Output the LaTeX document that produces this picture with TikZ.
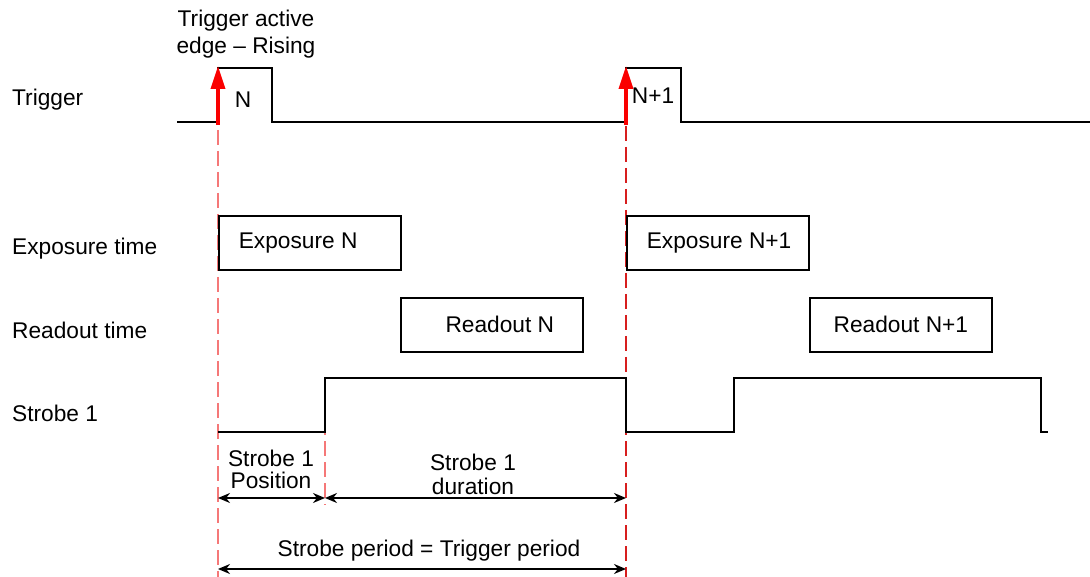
\documentclass[tikz,border=0pt]{standalone}
\usepackage{fontspec}
\setmainfont{Liberation Sans}
\usepackage{tikz}
\usetikzlibrary{arrows.meta, positioning, calc}
\definecolor{edgered}{RGB}{250, 0, 0}
\definecolor{guidepink}{RGB}{245, 120, 120}
\definecolor{guidered}{RGB}{215, 30, 30}

\begin{document}
\begin{tikzpicture}[
    x=1pt, y=-1pt,
    font=\fontsize{22.7}{24}\selectfont,
    signal/.style={line width=1.8pt, black},
    slot/.style={rectangle, draw=black, line width=1.7pt, minimum width=182pt,
                 minimum height=54pt, inner sep=0pt},
    guide/.style={guidepink, line width=1.2pt, dash pattern=on 15pt off 6pt},
    edge/.style={-{Stealth[length=23pt, width=14pt, inset=0pt]}, edgered, line width=3.5pt},
    span/.style={{Stealth[length=12pt, width=10pt]}-{Stealth[length=12pt, width=10pt]},
                 line width=1.6pt, black},
    rowlbl/.style={anchor=base west, inner sep=0pt},
    txt/.style={anchor=base, align=center, inner sep=0pt},
]
\useasboundingbox (0,0) rectangle (1090,577);

% time marks
\coordinate (edgeN) at (218,122);
\coordinate (edgeM) at (626,122);
\coordinate (strobeOn) at (325,378);

% row labels
\node[rowlbl] (lTrig) at (12,106) {Trigger};
\node[rowlbl] (lExp) at (12,255) {Exposure time};
\node[rowlbl] (lRead) at (12,339) {Readout time};
\node[rowlbl] (lStrobe) at (12,421) {Strobe 1};

% guide lines
\draw[guide] ($(edgeN)+(0,8)$) -- (edgeN |- 0,577);
\draw[guide, guidered] ($(edgeM)+(0,4)$) -- (edgeM |- 0,577);
\draw[guide] (strobeOn) -- (strobeOn |- 0,505);

% trigger
\draw[signal] (177,122) -- (edgeN) |- (272,68) -- (272,122) -- (edgeM) |- (681,68)
    -- (681,122) -- (1090,122);
\node[txt, font=\fontsize{22.7}{27}\selectfont] (edgeTxt) at (246,54) {Trigger active\\edge -- Rising};
\node[txt] (pN) at (243,108) {N};
\node[txt] (pM) at (653,104) {N+1};
\draw[edge] ($(edgeN)+(0,3)$) -- ($(edgeN)+(0,-56)$);
\draw[edge] ($(edgeM)+(0,3)$) -- ($(edgeM)+(0,-56)$);

% exposure and readout
\node[slot, anchor=north west] (expN) at (218,215) {\makebox[142pt][l]{Exposure N}};
\node[slot, anchor=north west] (expM) at (626,215) {\makebox[142pt][l]{Exposure N+1}};
\node[slot, anchor=north west] (readN) at (400,297) {\hspace{16pt}Readout N};
\node[slot, anchor=north west] (readM) at (809,297) {Readout N+1};

% strobe
\draw[signal] (218,432) -| (strobeOn) -- (626,378) |- (734,432) |- (1041,378)
    |- (1048,432);

% spans
\draw[span] (edgeN |- 0,498) -- (strobeOn |- 0,498);
\draw[span] (strobeOn |- 0,498) -- (edgeM |- 0,498);
\draw[span] (edgeN |- 0,569) -- (edgeM |- 0,569);
\node[txt, font=\fontsize{22.7}{22}\selectfont] (posTxt) at (271,488) {Strobe 1\\Position};
\node[txt] (durTxt) at (473,494) {Strobe 1\\duration};
\node[txt] (perTxt) at (429,556) {Strobe period = Trigger period};

\end{tikzpicture}
\end{document}
